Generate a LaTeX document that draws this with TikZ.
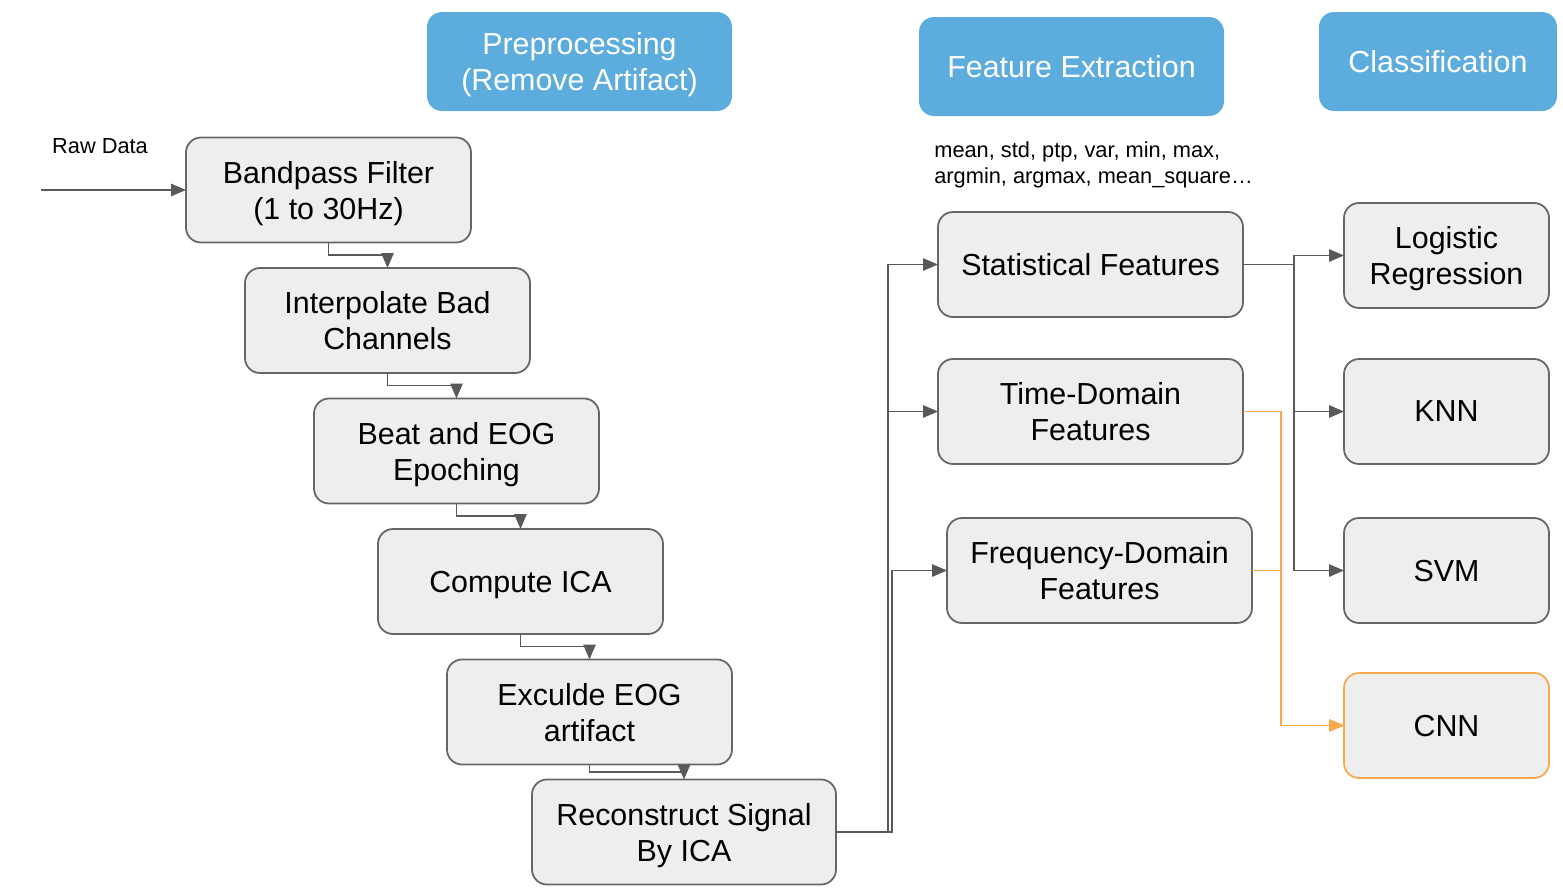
\documentclass[tikz,border=0pt]{standalone}
\usepackage{fontspec}
\setmainfont{Liberation Sans}
\usetikzlibrary{positioning}
\usetikzlibrary{arrows.meta}

\definecolor{boxfill}{HTML}{EEEEEE}
\definecolor{boxline}{HTML}{666666}
\definecolor{arrline}{HTML}{595959}
\definecolor{headblue}{HTML}{5DACDE}
\definecolor{cnnorange}{HTML}{F9A94B}

\tikzset{
  stage/.style={draw=boxline, fill=boxfill, line width=1pt, rounded corners=0.3cm,
    minimum width=5.7cm, minimum height=2.1cm, inner sep=0pt, outer sep=0pt, align=center,
    text depth=0pt, font=\fontsize{17.3}{20.5}\selectfont},
  header/.style={fill=headblue, rounded corners=0.3cm, text=white,
    minimum width=6.1cm, minimum height=1.98cm, inner sep=0pt, outer sep=0pt, align=center,
    text depth=0pt, font=\fontsize{17.3}{20.5}\selectfont},
  classbox/.style={stage, minimum width=4.1cm},
  note/.style={inner sep=0pt, align=left, font=\fontsize{12.4}{14.8}\selectfont},
  arr/.style={draw=arrline, line width=1pt, -{Triangle[length=8.5pt, width=7pt]}},
  orangearr/.style={arr, draw=cnnorange, -{Triangle[length=8.5pt, width=7pt, fill=cnnorange]}},
}

\begin{document}
\begin{tikzpicture}
    \useasboundingbox (0,0) rectangle (31.26,-17.78);

    % headers
    \node[header] (preproc) at (11.59,-1.23) {Preprocessing\\(Remove Artifact)};
    \node[header] (featext) at (21.43,-1.33) {Feature Extraction};
    \node[header, minimum width=4.76cm] (classif) at (28.76,-1.23) {Classification};

    % preprocessing chain
    \node[note] (rawlabel) at (2.0,-2.92) {Raw Data};
    \coordinate (raw-in) at (0.82,-3.80);
    \node[stage] (bandpass) at (6.57,-3.80) {Bandpass Filter\\(1 to 30Hz)};
    \node[stage, below=0.51 of bandpass, xshift=1.18cm] (interp) {Interpolate Bad\\Channels};
    \node[stage, below=0.51 of interp, xshift=1.38cm] (epoch) {Beat and EOG\\Epoching};
    \node[stage, below=0.51 of epoch, xshift=1.28cm] (ica) {Compute ICA};
    \node[stage, below=0.51 of ica, xshift=1.38cm] (exclude) {Exculde EOG\\artifact};
    \node[stage, minimum width=6.08cm, below=0.30 of exclude, xshift=1.89cm] (reconstruct) {Reconstruct Signal\\By ICA};
    \draw[arr] (raw-in) -- (bandpass);
    \draw[arr] (bandpass.south) -- ++(0,-0.25) -| (interp.north);
    \draw[arr] (interp.south) -- ++(0,-0.25) -| (epoch.north);
    \draw[arr] (epoch.south) -- ++(0,-0.25) -| (ica.north);
    \draw[arr] (ica.south) -- ++(0,-0.25) -| (exclude.north);
    \draw[arr] (exclude.south) -- ++(0,-0.15) -| (reconstruct.north);

    % feature extraction
    \node[note, anchor=west] (featlist) at (18.68,-3.30) {mean, std, ptp, var, min, max,\\argmin, argmax, mean\_square\ldots};
    \node[stage, minimum width=6.1cm] (stat) at (21.81,-5.29) {Statistical Features};
    \node[stage, minimum width=6.1cm, below=0.84 of stat] (timedom) {Time-Domain\\Features};
    \node[stage, minimum width=6.1cm, below=1.08 of timedom, xshift=0.18cm] (freqdom) {Frequency-Domain\\Features};
    \draw[arr] (reconstruct.east) -- ++(1.04,0) |- (stat.west);
    \draw[arr] (reconstruct.east) -- ++(1.04,0) |- (timedom.west);
    \draw[arr] (reconstruct.east) -- ++(1.12,0) |- (freqdom.west);

    % classification
    \node[classbox] (logreg) at (28.93,-5.11) {Logistic\\Regression};
    \node[classbox, below=1.02 of logreg] (knn) {KNN};
    \node[classbox, below=1.08 of knn] (svm) {SVM};
    \node[classbox, draw=cnnorange, below=1.0 of svm] (cnn) {CNN};
    \draw[arr] (stat.east) -- ++(1.02,0) |- (logreg.west);
    \draw[arr] (stat.east) -- ++(1.02,0) |- (knn.west);
    \draw[arr] (stat.east) -- ++(1.02,0) |- (svm.west);
    \draw[orangearr] (timedom.east) -- ++(0.76,0) |- (cnn.west);
    \draw[orangearr] (freqdom.east) -- ++(0.58,0) |- (cnn.west);

\end{tikzpicture}
\end{document}
